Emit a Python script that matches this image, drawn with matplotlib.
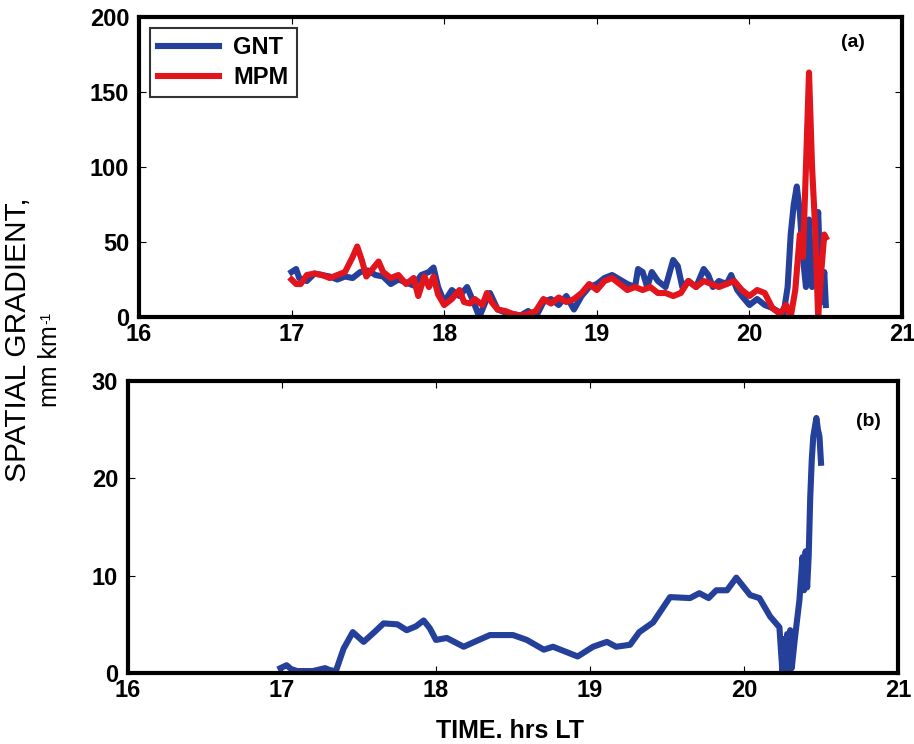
import matplotlib
matplotlib.use("Agg")
import matplotlib.pyplot as plt

# ---- Panel (a) data ----
gnt_t = [17.00, 17.03, 17.05, 17.10, 17.15, 17.20, 17.25, 17.30, 17.35, 17.40,
         17.45, 17.50, 17.55, 17.60, 17.65, 17.70, 17.75, 17.80, 17.85, 17.90,
         17.93, 17.96, 18.00, 18.05, 18.10, 18.15, 18.20, 18.23, 18.27, 18.30,
         18.35, 18.40, 18.45, 18.50, 18.55, 18.60, 18.65, 18.70, 18.75, 18.80,
         18.85, 18.90, 18.95, 19.00, 19.05, 19.10, 19.15, 19.20, 19.25, 19.27,
         19.30, 19.33, 19.36, 19.40, 19.45, 19.50, 19.53, 19.56, 19.60, 19.65,
         19.70, 19.73, 19.76, 19.80, 19.85, 19.88, 19.92, 19.95, 20.00, 20.05,
         20.10, 20.15, 20.20, 20.22, 20.25, 20.27, 20.29, 20.31, 20.33, 20.35,
         20.37, 20.39, 20.41, 20.43, 20.45, 20.47, 20.49, 20.50]
gnt_v = [30, 32, 26, 24, 29, 28, 27, 25, 27, 26,
         30, 31, 28, 27, 22, 25, 23, 21, 28, 30,
         33, 20, 10, 18, 14, 20, 8, 0, 10, 16,
         5, 3, 2, 1, 4, 0, 10, 12, 8, 14,
         5, 14, 20, 22, 26, 28, 25, 22, 20, 32,
         30, 20, 30, 24, 20, 38, 34, 20, 24, 20,
         32, 28, 20, 24, 22, 28, 18, 14, 8, 12,
         8, 6, 3, 0, 20, 55, 75, 87, 70, 40,
         20, 65, 20, 40, 70, 10, 30, 8]

mpm_t = [17.00, 17.03, 17.06, 17.10, 17.15, 17.20, 17.25, 17.30, 17.35, 17.40,
         17.43, 17.46, 17.49, 17.53, 17.57, 17.60, 17.65, 17.70, 17.75, 17.80,
         17.83, 17.87, 17.90, 17.93, 17.96, 18.00, 18.05, 18.10, 18.13, 18.17,
         18.20, 18.25, 18.28, 18.31, 18.35, 18.40, 18.45, 18.50, 18.55, 18.60,
         18.65, 18.70, 18.75, 18.80, 18.85, 18.90, 18.95, 19.00, 19.05, 19.10,
         19.15, 19.20, 19.25, 19.30, 19.35, 19.40, 19.45, 19.50, 19.55, 19.60,
         19.65, 19.70, 19.75, 19.80, 19.85, 19.90, 19.95, 20.00, 20.05, 20.10,
         20.15, 20.20, 20.24, 20.27, 20.30, 20.33, 20.35, 20.37, 20.39, 20.41,
         20.43, 20.45, 20.47, 20.49, 20.50]
mpm_v = [25, 22, 22, 28, 29, 28, 26, 28, 30, 40,
         47, 38, 27, 32, 37, 30, 26, 28, 22, 26,
         14, 27, 20, 27, 15, 8, 12, 18, 10, 9,
         12, 8, 16, 10, 5, 4, 2, 1, 2, 4,
         12, 9, 13, 10, 12, 16, 22, 18, 24, 26,
         22, 18, 20, 18, 20, 16, 16, 14, 16, 24,
         20, 24, 22, 20, 22, 24, 18, 14, 18, 16,
         6, 2, 8, 0, 18, 55, 40, 100, 163, 100,
         60, 0, 30, 55, 53]

# ---- Panel (b) data ----
b_t = [16.99, 17.03, 17.06, 17.10, 17.20, 17.28, 17.31, 17.35, 17.40, 17.46,
       17.53, 17.60, 17.66, 17.75, 17.81, 17.87, 17.92, 17.96, 18.00, 18.07,
       18.18, 18.25, 18.35, 18.50, 18.59, 18.70, 18.76, 18.92, 19.02, 19.11,
       19.17, 19.26, 19.32, 19.41, 19.52, 19.65, 19.71, 19.77, 19.82, 19.89,
       19.95, 20.04, 20.10, 20.17, 20.23, 20.25, 20.26, 20.27, 20.28, 20.29,
       20.30, 20.31, 20.33, 20.36, 20.38, 20.39, 20.40, 20.41, 20.42, 20.43,
       20.44, 20.45, 20.47, 20.48, 20.49, 20.50]
b_v = [0.5, 0.8, 0.4, 0.2, 0.2, 0.5, 0.3, 0.2, 2.5, 4.2,
       3.2, 4.2, 5.1, 5.0, 4.4, 4.8, 5.4, 4.6, 3.4, 3.6,
       2.7, 3.2, 3.9, 3.9, 3.4, 2.4, 2.7, 1.7, 2.7, 3.2,
       2.7, 2.9, 4.2, 5.2, 7.8, 7.7, 8.2, 7.7, 8.5, 8.5,
       9.8, 8.0, 7.7, 5.8, 4.7, 0.0, 3.5, 0.3, 4.0, 0.5,
       4.4, 0.5, 3.5, 7.5, 11.9, 8.5, 12.5, 8.8, 12.0, 18.0,
       21.9, 24.3, 26.2, 25.0, 24.3, 21.6]

BLUE = "#25409a"
RED = "#e2141c"
FONT = "Liberation Sans"

plt.rcParams["font.family"] = [FONT, "DejaVu Sans"]
plt.rcParams["font.weight"] = "bold"

fig = plt.figure(figsize=(9.14, 7.44), dpi=100)
ax1 = fig.add_axes([0.152, 0.5739, 0.835, 0.4032])
ax2 = fig.add_axes([0.140, 0.0954, 0.8425, 0.3925])

lw = 4.4
ax1.plot(gnt_t, gnt_v, color=BLUE, lw=lw, label="GNT", solid_joinstyle="round")
ax1.plot(mpm_t, mpm_v, color=RED, lw=lw, label="MPM", solid_joinstyle="round")
ax2.plot(b_t, b_v, color=BLUE, lw=lw, solid_joinstyle="round")

ax1.set_xlim(16, 21)
ax1.set_ylim(0, 200)
ax1.set_yticks([0, 50, 100, 150, 200])
ax2.set_xlim(16, 21)
ax2.set_ylim(0, 30)
ax2.set_yticks([0, 10, 20, 30])

for ax in (ax1, ax2):
    ax.set_xticks([16, 17, 18, 19, 20, 21])
    for s in ax.spines.values():
        s.set_linewidth(3.0)
    ax.tick_params(direction="in", top=True, right=True, length=5, width=0.8,
                   labelsize=17)
    ax.tick_params(axis="x", pad=4)
    ax.tick_params(axis="y", pad=7)
    for lab in ax.get_xticklabels() + ax.get_yticklabels():
        lab.set_fontweight("bold")

leg = ax1.legend(loc="upper left", bbox_to_anchor=(0.0, 1.0), fontsize=17,
                 frameon=True, fancybox=False, edgecolor="black",
                 handlelength=2.6, borderpad=0.35, labelspacing=0.3,
                 handletextpad=0.6, borderaxespad=0.45)
leg.get_frame().set_linewidth(1.5)
for t in leg.get_texts():
    t.set_fontweight("bold")

ax1.text(0.935, 0.915, "(a)", transform=ax1.transAxes, fontsize=14,
         fontweight="bold", ha="center", va="center")
ax2.text(0.962, 0.86, "(b)", transform=ax2.transAxes, fontsize=14,
         fontweight="bold", ha="center", va="center")

fig.text(0.558, 0.002, "TIME. hrs LT", ha="center", va="bottom",
         fontsize=18, fontweight="bold")
fig.text(0.020, 0.543, "SPATIAL GRADIENT,", rotation=90, ha="center",
         va="center", fontsize=21.5, fontweight="normal")
fig.text(0.055, 0.508, "mm km", rotation=90, ha="center",
         va="center", fontsize=18, fontweight="normal")
fig.text(0.051, 0.573, "-1", rotation=90, ha="center",
         va="center", fontsize=10, fontweight="normal")

fig.savefig("out.png", dpi=100)
